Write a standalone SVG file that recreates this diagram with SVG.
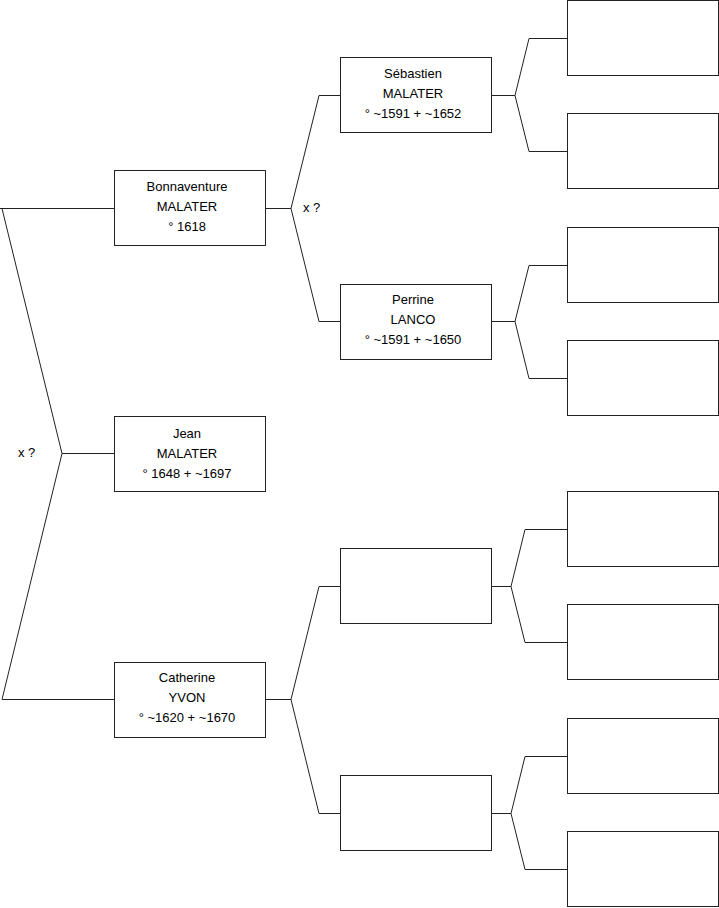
<svg xmlns="http://www.w3.org/2000/svg" width="719" height="908" viewBox="0 0 719 908">
<style>
.box{fill:#fff;stroke:#222;stroke-width:1}
.ln{fill:none;stroke:#222;stroke-width:1}
text{font-family:"Liberation Sans",Arial,sans-serif;font-size:13px;fill:#000}
.c{text-anchor:middle}
</style>
<rect width="719" height="908" fill="#fff"/>
<g id="connectors">
<polyline class="ln" points="0,208.5 114,208.5"/>
<polyline class="ln" points="2,208.5 62,453.5 2,699.5"/>
<polyline class="ln" points="62,453.5 114,453.5"/>
<polyline class="ln" points="2,699.5 114,699.5"/>
<polyline class="ln" points="265,208.5 291,208.5"/>
<polyline class="ln" points="340,95.5 319,95.5 291,208.5 319,321.5 340,321.5"/>
<polyline class="ln" points="265,699.5 291,699.5"/>
<polyline class="ln" points="340,586.5 319,586.5 291,699.5 319,813.5 340,813.5"/>
<polyline class="ln" points="491,95.5 515,95.5"/>
<polyline class="ln" points="567,38.5 529,38.5 515,95.5 529,151.5 567,151.5"/>
<polyline class="ln" points="491,321.5 515,321.5"/>
<polyline class="ln" points="567,265.5 529,265.5 515,321.5 529,378.5 567,378.5"/>
<polyline class="ln" points="491,586.5 511,586.5"/>
<polyline class="ln" points="567,529.5 525,529.5 511,586.5 525,642.5 567,642.5"/>
<polyline class="ln" points="491,813.5 511,813.5"/>
<polyline class="ln" points="567,756.5 525,756.5 511,813.5 525,869.5 567,869.5"/>
<text x="303" y="212">x ?</text>
<text x="18" y="457">x ?</text>
</g>
<g id="bonnaventure">
<rect class="box" x="114.5" y="170.5" width="151" height="75"/>
<text class="c" x="187" y="191">Bonnaventure</text>
<text class="c" x="187" y="211">MALATER</text>
<text class="c" x="187" y="231">° 1618</text>
</g>
<g id="jean">
<rect class="box" x="114.5" y="416.5" width="151" height="75"/>
<text class="c" x="187" y="438">Jean</text>
<text class="c" x="187" y="458">MALATER</text>
<text class="c" x="187" y="478">° 1648 + ~1697</text>
</g>
<g id="catherine">
<rect class="box" x="114.5" y="662.5" width="151" height="75"/>
<text class="c" x="187" y="682">Catherine</text>
<text class="c" x="187" y="702">YVON</text>
<text class="c" x="187" y="722">° ~1620 + ~1670</text>
</g>
<g id="sebastien">
<rect class="box" x="340.5" y="57.5" width="151" height="75"/>
<text class="c" x="413" y="78">Sébastien</text>
<text class="c" x="413" y="98">MALATER</text>
<text class="c" x="413" y="118">° ~1591 + ~1652</text>
</g>
<g id="perrine">
<rect class="box" x="340.5" y="284.5" width="151" height="75"/>
<text class="c" x="413" y="304">Perrine</text>
<text class="c" x="413" y="324">LANCO</text>
<text class="c" x="413" y="344">° ~1591 + ~1650</text>
</g>
<g id="empty-m1"><rect class="box" x="340.5" y="548.5" width="151" height="75"/></g>
<g id="empty-m2"><rect class="box" x="340.5" y="775.5" width="151" height="75"/></g>
<g id="empty-r1"><rect class="box" x="567.5" y="0.5" width="151" height="75"/></g>
<g id="empty-r2"><rect class="box" x="567.5" y="113.5" width="151" height="75"/></g>
<g id="empty-r3"><rect class="box" x="567.5" y="227.5" width="151" height="75"/></g>
<g id="empty-r4"><rect class="box" x="567.5" y="340.5" width="151" height="75"/></g>
<g id="empty-r5"><rect class="box" x="567.5" y="491.5" width="151" height="75"/></g>
<g id="empty-r6"><rect class="box" x="567.5" y="604.5" width="151" height="75"/></g>
<g id="empty-r7"><rect class="box" x="567.5" y="718.5" width="151" height="75"/></g>
<g id="empty-r8"><rect class="box" x="567.5" y="831.5" width="151" height="75"/></g>
</svg>
